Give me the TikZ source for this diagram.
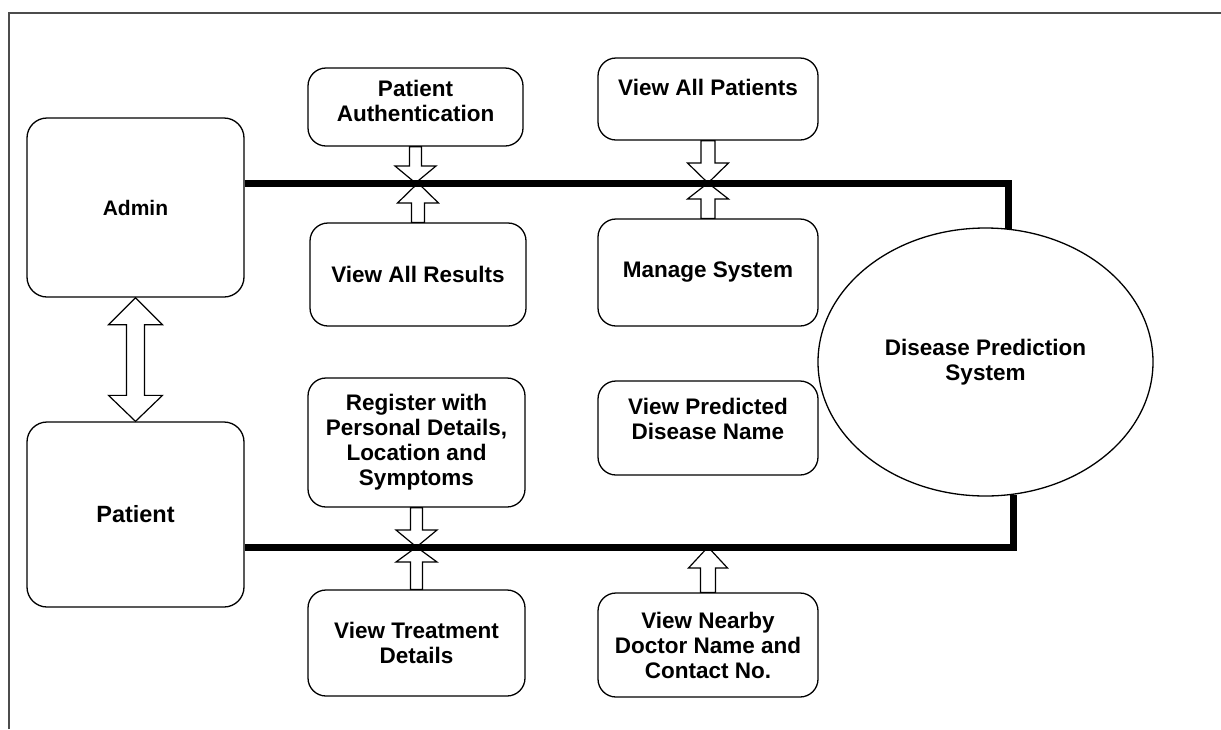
\documentclass[tikz,border=0pt]{standalone}
\usepackage{fontspec}
\setmainfont{Liberation Sans}
\usetikzlibrary{shapes.geometric,calc}
\tikzset{
  lbl/.style={align=center, font=\fontsize{22.5}{25}\selectfont\bfseries, inner sep=0pt},
  box/.style={draw=black, line width=1.3pt, rounded corners=18pt, lbl},
  bigbox/.style={box, rounded corners=20pt},
  sysell/.style={draw=black, line width=1.3pt, ellipse, inner sep=0pt, lbl},
  link/.style={line width=7pt, line join=miter, line cap=butt},
  blk/.style={draw=black, fill=white, line width=1.2pt, line join=miter},
  frame/.style={draw=black!70, line width=1.5pt}
}
% block arrow: #1 start, #2 tip, #3 head length, #4 half shaft, #5 half head
\newcommand{\blkarrow}[5]{%
  \path[blk] let \p1=#1, \p2=#2, \n1={sign(\y2-\y1)} in
    (\x1-#4,\y1) -- (\x1-#4,\y2-\n1*#3) -- (\x1-#5,\y2-\n1*#3) -- (\x1,\y2)
    -- (\x1+#5,\y2-\n1*#3) -- (\x1+#4,\y2-\n1*#3) -- (\x1+#4,\y1) -- cycle;}
\begin{document}
\begin{tikzpicture}[x=1pt,y=-1pt]
\useasboundingbox (0,0) rectangle (1221,729);
\draw[frame] (9,729) -- (9,13) -- (1221,13);

\node[bigbox, minimum width=217pt, minimum height=179pt, font=\fontsize{21}{24}\selectfont\bfseries] (admin) at (135.5,207.5) {Admin};
\node[bigbox, minimum width=217pt, minimum height=185pt, font=\fontsize{23.5}{26}\selectfont\bfseries] (patient) at (135.5,514.5) {Patient};

\node[box, minimum width=215pt, minimum height=78pt] (pauth) at (415.5,107) {};
\node[lbl] (pauth-t) at ([yshift=6pt]pauth.center) {Patient\\Authentication};
\node[box, minimum width=216pt, minimum height=103pt] (vresults) at (418,274.5) {View All Results};
\node[box, minimum width=220pt, minimum height=82pt] (vpatients) at (708,99) {};
\node[lbl] (vpatients-t) at ([yshift=12pt]vpatients.center) {View All Patients};
\node[box, minimum width=220pt, minimum height=107pt] (manage) at (708,272.5) {Manage System};
\node[box, minimum width=217pt, minimum height=129pt] (register) at (416.5,442.5) {Register with\\Personal Details,\\Location and\\Symptoms};
\node[box, minimum width=220pt, minimum height=94pt] (vpred) at (708,428) {};
\node[lbl] (vpred-t) at ([yshift=9pt]vpred.center) {View Predicted\\Disease Name};
\node[box, minimum width=217pt, minimum height=106pt] (vtreat) at (416.5,643) {View Treatment\\Details};
\node[box, minimum width=220pt, minimum height=104pt] (vnearby) at (708,645) {View Nearby\\Doctor Name and\\Contact No.};
\node[sysell, minimum width=335pt, minimum height=268pt] (sys) at (985.5,362) {Disease Prediction\\System};

\coordinate (tl) at (1008,183);
\coordinate (bl) at (1013,547);

% double arrow between Admin and Patient
\path[blk] let \p1=(admin.south), \p2=(patient.north) in
  (\x1,\y1) -- (\x1+27pt,\y1-27pt) -- (\x1+9pt,\y1-27pt) -- (\x1+9pt,\y2+26pt)
  -- (\x1+27pt,\y2+26pt) -- (\x1,\y2) -- (\x1-27pt,\y2+26pt) -- (\x1-9pt,\y2+26pt)
  -- (\x1-9pt,\y1-27pt) -- (\x1-27pt,\y1-27pt) -- cycle;

\blkarrow{(pauth.south)}{(pauth.south |- tl)}{17pt}{6pt}{20.5pt}
\blkarrow{(vresults.north)}{(vresults.north |- tl)}{20pt}{6.5pt}{20.5pt}
\blkarrow{(vpatients.south)}{(vpatients.south |- tl)}{20pt}{7pt}{20.5pt}
\blkarrow{(manage.north)}{(manage.north |- tl)}{16pt}{7pt}{20.5pt}
\blkarrow{(register.south)}{(register.south |- bl)}{17pt}{6pt}{20.5pt}
\blkarrow{(vtreat.north)}{(vtreat.north |- bl)}{15pt}{6pt}{20.5pt}
\blkarrow{(vnearby.north)}{(vnearby.north |- bl)}{21pt}{7.5pt}{19.5pt}

\draw[link] (admin.east |- tl) -- (tl) -- (sys.80 -| tl);
\draw[link] (patient.east |- bl) -- (bl) -- (sys.-78 -| bl);
\end{tikzpicture}
\end{document}
